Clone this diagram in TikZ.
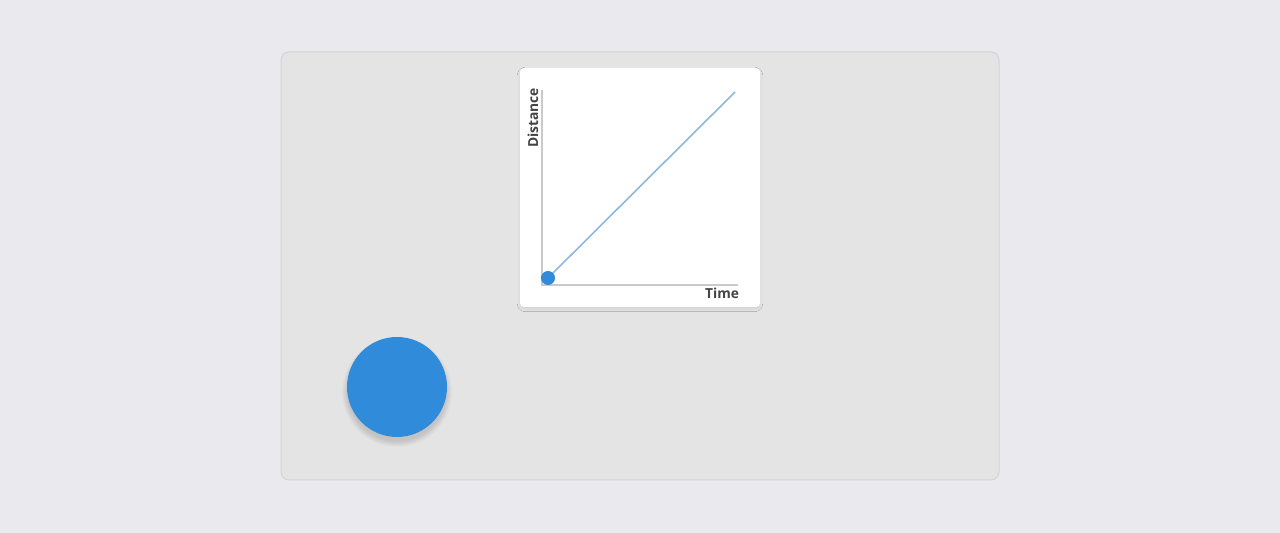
\documentclass[tikz,border=0pt]{standalone}
\usepackage{fontspec}
\setmainfont{Open Sans}
\usetikzlibrary{shadows.blur}

\definecolor{pagebg}{HTML}{E9E9EE}
\definecolor{panelfill}{HTML}{E4E4E4}
\definecolor{panelline}{HTML}{D4D4D6}
\definecolor{axisgray}{HTML}{CACACA}
\definecolor{trendblue}{HTML}{8DB9DF}
\definecolor{ballblue}{HTML}{318BDB}
\definecolor{labelgray}{HTML}{444444}

\tikzset{
  card/.style={fill=white, rounded corners=2pt, minimum width=120pt, minimum height=119.5pt,
    blur shadow={shadow xshift=0pt, shadow yshift=-1pt, shadow blur radius=2pt,
      shadow blur steps=6, shadow opacity=12, shadow scale=0.99}},
  axis/.style={axisgray, line width=0.6pt},
  trend/.style={trendblue, line width=0.8pt},
  dot/.style={circle, fill=ballblue, inner sep=0pt, minimum size=7pt},
  ball/.style={circle, fill=ballblue, inner sep=0pt, minimum size=50pt},
  axislabel/.style={text=labelgray, font=\fontsize{6.9pt}{8pt}\selectfont\bfseries, inner sep=0pt}
}

\begin{document}
\begin{tikzpicture}[x=0.5pt,y=-0.5pt]

    % Page background
    \fill[pagebg] (0,0) rectangle (1280,533);
    \useasboundingbox (0,0) rectangle (1280,533);

    % Panel
    \draw[panelline, fill=panelfill, line width=0.5pt, rounded corners=4pt] (281,52) rectangle (999,480);

    % Chart card
    \node[card] (card) at (640,187.5) {};

    % Axes
    \coordinate (ytop) at (542,90);
    \coordinate (origin) at (542,285);
    \coordinate (xend) at (738,285);
    \draw[axis] (ytop) -- (origin) -- (xend);

    % Distance against time
    \coordinate (startpt) at (548,278);
    \coordinate (endpt) at (735,92);
    \draw[trend] (startpt) -- (endpt);
    \node[dot] (start) at (startpt) {};

    % Axis labels
    \node[axislabel, rotate=90] (ylabel) at (533,118) {Distance};
    \node[axislabel] (xlabel) at (722,293) {Time};

    % Soft shadow under the ball
    \foreach \r in {49,50,...,55}
        \fill[black, opacity=0.018] (397,392) circle[radius=\r];

    % Moving ball
    \node[ball] (ball) at (397,387) {};

\end{tikzpicture}
\end{document}
